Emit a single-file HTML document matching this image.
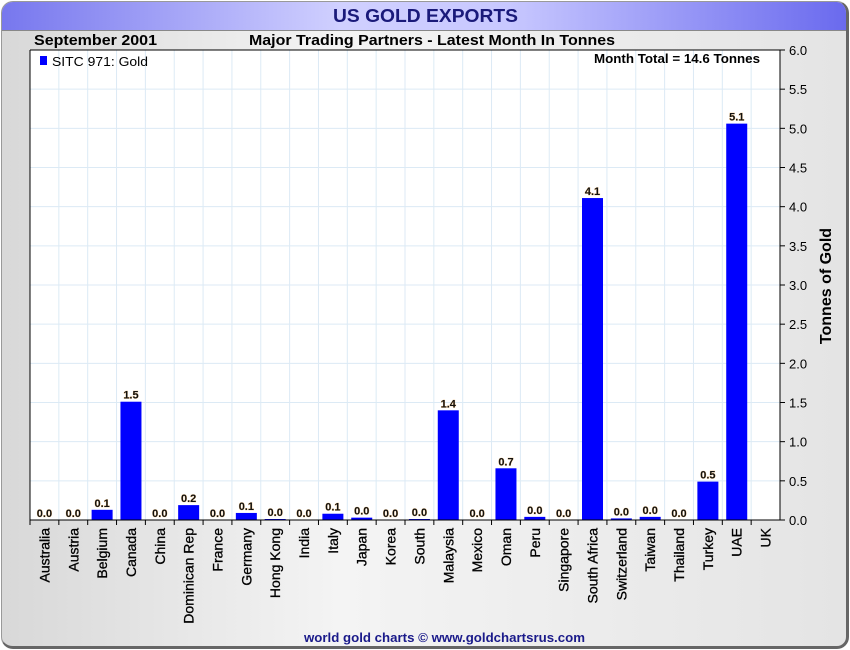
<!DOCTYPE html>
<html><head><meta charset="utf-8"><style>
body{margin:0;width:850px;height:650px;background:#fff;font-family:"Liberation Sans",sans-serif;overflow:hidden}
#panel{position:absolute;left:1px;top:1px;width:844px;height:644px;border-radius:12px;border:1px solid #999;border-right:3px solid #666;border-bottom:3px solid #666;background:linear-gradient(90deg,#d8d8d8,#f4f4f4 40%,#e4e4e4);overflow:hidden}
#titlebar{position:absolute;left:0;top:0;width:100%;height:28px;background:linear-gradient(90deg,#7777ee,#d0d0ff 40%,#c8c8ff 60%,#6a6aee);border-bottom:1px solid #888}
</style></head><body>
<div id="panel">
<div id="titlebar"></div>
</div>
<svg id="chart" width="850" height="650" style="position:absolute;left:0;top:0">
<text x="333" y="22" textLength="185" lengthAdjust="spacingAndGlyphs" font-size="18" font-weight="bold" fill="#1a1a7a">US GOLD EXPORTS</text>
<text x="34" y="45" textLength="123" lengthAdjust="spacingAndGlyphs" font-size="15" font-weight="bold" fill="#000">September 2001</text>
<text x="249" y="45" textLength="366" lengthAdjust="spacingAndGlyphs" font-size="15" font-weight="bold" fill="#000">Major Trading Partners - Latest Month In Tonnes</text>
<text x="831" y="286" text-anchor="middle" font-size="16" font-weight="bold" transform="rotate(-90 831 286)">Tonnes of Gold</text>
<text x="304" y="642" textLength="281" lengthAdjust="spacingAndGlyphs" font-size="13" font-weight="bold" fill="#1a1a8a">world gold charts © www.goldchartsrus.com</text>
</svg>
<script>
const categories=["Australia","Austria","Belgium","Canada","China","Dominican Rep","France","Germany","Hong Kong","India","Italy","Japan","Korea","South","Malaysia","Mexico","Oman","Peru","Singapore","South Africa","Switzerland","Taiwan","Thailand","Turkey","UAE","UK"];
const values=[0,0,0.13,1.51,0,0.19,0,0.09,0.01,0,0.08,0.03,0,0.01,1.40,0,0.66,0.04,0,4.11,0.02,0.04,0,0.49,5.06,null];
const yTicks=[0,0.5,1,1.5,2,2.5,3,3.5,4,4.5,5,5.5,6];
const NS="http://www.w3.org/2000/svg";
const svg=document.getElementById('chart');
const L=30,R=780,T=50,B=520,YMAX=6;
const bw=(R-L)/categories.length;
const x=i=>L+i*bw;
const y=v=>B-(v/YMAX)*(B-T);
function mk(t,a,p){const e=document.createElementNS(NS,t);for(const k in a)e.setAttribute(k,a[k]);(p||svg).appendChild(e);return e;}
mk('rect',{x:L,y:T,width:R-L,height:B-T,fill:'#fff'});
yTicks.forEach(v=>{
 if(v>0&&v<YMAX)mk('line',{x1:L,x2:R,y1:y(v),y2:y(v),stroke:'#dceaf5','stroke-width':1});
 mk('line',{x1:R,x2:R+5,y1:y(v),y2:y(v),stroke:'#000'});
 const t=mk('text',{x:R+9,y:y(v)+5,'font-size':13,fill:'#000'});t.textContent=v.toFixed(1);
 
 
});
categories.forEach((c,i)=>{
 if(i>0)mk('line',{x1:x(i),x2:x(i),y1:T,y2:B,stroke:'#dceaf5'});
});
categories.forEach((c,i)=>{
 mk('line',{x1:x(i),x2:x(i),y1:B,y2:B+5,stroke:'#000'});
 const cx=x(i)+bw/2;
 const t=mk('text',{x:0,y:0,'font-size':14,'text-anchor':'end',stroke:'#000','stroke-width':0.3,transform:`translate(${cx+5},${B+8}) rotate(-90)`});
 t.textContent=c;
 
 
 const v=values[i];
 if(v==null)return;
 const h=Math.max(B-y(v),v>0?1:0);
 const r=mk('rect',{x:cx-10.5,y:B-h,width:21,height:h,fill:'#0000ff'});
 
 
 const l=mk('text',{x:cx,y:B-h-3,'font-size':11,'font-weight':'bold','text-anchor':'middle',fill:'#111','stroke':'#f0c080','stroke-width':0.6,'paint-order':'stroke'});
 l.textContent=v.toFixed(1);
 
 
});
mk('line',{x1:L,x2:R,y1:T,y2:T,stroke:'#000'});
mk('line',{x1:L,x2:L,y1:T,y2:B,stroke:'#000'});
mk('line',{x1:R,x2:R,y1:T,y2:B,stroke:'#000'});
mk('line',{x1:L,x2:R+5,y1:B,y2:B,stroke:'#000'});
const lg=mk('rect',{x:40,y:56,width:7,height:9,fill:'#0000ff'});


const lt=mk('text',{x:52,y:66,'font-size':13,textLength:96,lengthAdjust:'spacingAndGlyphs'});lt.textContent='SITC 971: Gold';


const mt=mk('text',{x:594,y:63,'font-size':13,'font-weight':'bold',textLength:166,lengthAdjust:'spacingAndGlyphs'});mt.textContent='Month Total = 14.6 Tonnes';


</script>
</body></html>
